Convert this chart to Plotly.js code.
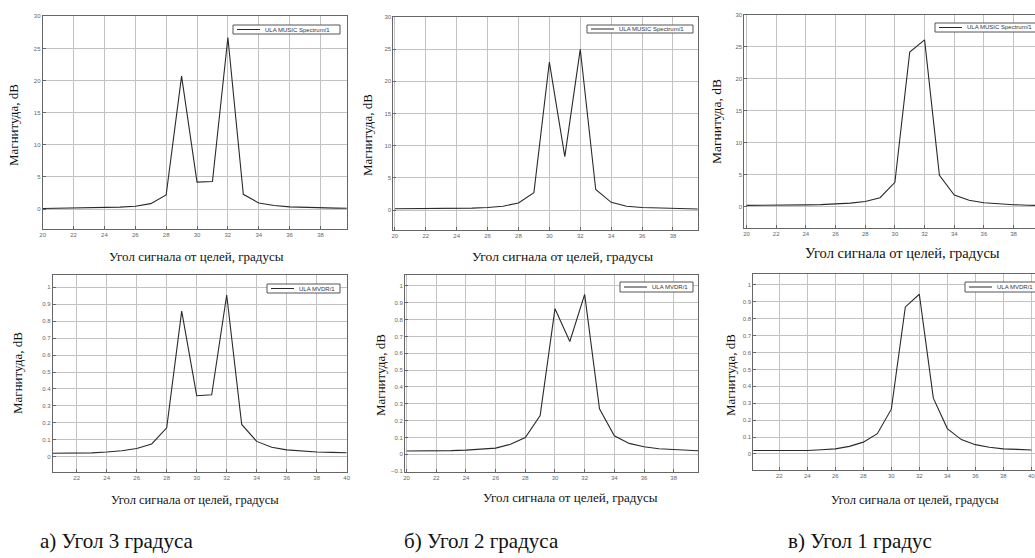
<!DOCTYPE html>
<html>
<head>
<meta charset="utf-8">
<script src="https://cdn.plot.ly/plotly-3.0.1.min.js"></script>
<style>
html,body{margin:0;padding:0;overflow:hidden;background:#fff;}
#chart{width:1060px;height:558px;}
</style>
</head>
<body>
<div id="chart"></div>
<script>
// ---- data ----
const angles = [20,21,22,23,24,25,26,27,28,29,30,31,32,33,34,35,36,37,38,39,40];
const musicA = [0.1,0.12,0.15,0.18,0.22,0.3,0.45,0.85,2.2,20.7,4.2,4.3,26.7,2.3,0.95,0.55,0.35,0.25,0.2,0.15,0.12];
const musicB = [0.2,0.2,0.2,0.22,0.25,0.3,0.4,0.6,1.1,2.7,23.0,8.3,25.0,3.2,1.2,0.6,0.4,0.3,0.25,0.2,0.15];
const musicC = [0.2,0.2,0.22,0.25,0.28,0.32,0.45,0.55,0.8,1.4,3.8,24.2,26.1,4.9,1.8,1.0,0.6,0.4,0.3,0.22,0.18];
const mvdrA = [0.02,0.02,0.02,0.022,0.027,0.035,0.048,0.075,0.17,0.86,0.36,0.365,0.955,0.19,0.09,0.055,0.04,0.032,0.027,0.025,0.023];
const mvdrB = [0.02,0.02,0.02,0.022,0.025,0.03,0.037,0.06,0.1,0.23,0.865,0.67,0.95,0.27,0.11,0.065,0.045,0.033,0.027,0.022,0.02];
const mvdrC = [0.02,0.02,0.02,0.02,0.02,0.025,0.03,0.045,0.07,0.12,0.265,0.87,0.945,0.33,0.15,0.085,0.055,0.04,0.03,0.027,0.023];
const musicName = 'ULA MUSIC Spectrum/1';
const mvdrName = 'ULA MVDR/1';
const yTitle = 'Магнитуда, dB';
const xTitle = 'Угол сигнала от целей, градусы';
const captions = ['а) Угол 3 градуса','б) Угол 2 градуса','в) Угол 1 градус'];

// ---- layout helpers ----
const W = 1060, H = 558;
const px = v => v / W;
const py = v => 1 - v / H;

function xax(l, r, range, anchor) {
  return {domain:[px(l), px(r)], range:range, dtick:2, tick0:0, anchor:anchor,
    showgrid:true, gridcolor:'#c2c2c2', gridwidth:1, zeroline:false,
    showline:true, mirror:true, linecolor:'#666', linewidth:1,
    ticks:'inside', ticklen:3, tickcolor:'#666',
    tickfont:{family:'Arial', size:6, color:'#666'}, fixedrange:true};
}
function yax(t, b, range, dtick, anchor) {
  return {domain:[py(b), py(t)], range:range, dtick:dtick, tick0:0, anchor:anchor,
    showgrid:true, gridcolor:'#c2c2c2', gridwidth:1, zeroline:false,
    showline:true, mirror:true, linecolor:'#666', linewidth:1,
    ticks:'inside', ticklen:3, tickcolor:'#666',
    tickfont:{family:'Arial', size:6, color:'#666'}, fixedrange:true};
}

const lineStyle = {color:'#2a2a2a', width:1.1};
const series = [
  {y:musicA, name:musicName, xa:'x',  ya:'y'},
  {y:musicB, name:musicName, xa:'x2', ya:'y2'},
  {y:musicC, name:musicName, xa:'x3', ya:'y3'},
  {y:mvdrA,  name:mvdrName,  xa:'x4', ya:'y4'},
  {y:mvdrB,  name:mvdrName,  xa:'x5', ya:'y5'},
  {y:mvdrC,  name:mvdrName,  xa:'x6', ya:'y6'}
];
const traces = series.map(s => ({x:angles, y:s.y, name:s.name, type:'scatter', mode:'lines',
  line:lineStyle, xaxis:s.xa, yaxis:s.ya, showlegend:false, hoverinfo:'skip'}));

const serif = 'Liberation Serif';
function ann(text, x, y, size, angle) {
  return {text:text, x:px(x), y:py(y), xref:'paper', yref:'paper', showarrow:false,
    xanchor:'center', yanchor:'middle', textangle:angle||0,
    font:{family:serif, size:size, color:'#111'}};
}

// hand-placed legend boxes (box: left, right, top, bottom in px)
const legendBoxes = [
  {l:233, r:340, t:25, b:34, name:musicName},
  {l:587, r:693, t:25, b:33, name:musicName},
  {l:935, r:1042, t:23, b:32, name:musicName},
  {l:267, r:340, t:284, b:293, name:mvdrName},
  {l:620, r:693, t:282, b:292, name:mvdrName},
  {l:965, r:1038, t:282, b:292, name:mvdrName}
];
const shapes = [];
const legendAnns = [];
legendBoxes.forEach(b => {
  shapes.push({type:'rect', xref:'paper', yref:'paper', x0:px(b.l), x1:px(b.r), y0:py(b.b), y1:py(b.t),
    line:{color:'#555', width:1}, fillcolor:'#fff', layer:'above'});
  const ym = (b.t + b.b) / 2;
  shapes.push({type:'line', xref:'paper', yref:'paper', x0:px(b.l+4), x1:px(b.l+27), y0:py(ym), y1:py(ym),
    line:{color:'#2a2a2a', width:1}, layer:'above'});
  legendAnns.push({text:b.name, x:px(b.l+30), y:py(ym), xref:'paper', yref:'paper', showarrow:false,
    xanchor:'left', yanchor:'middle', font:{family:'Arial', size:6, color:'#333'}});
});

const layout = {
  width:W, height:H, margin:{l:0,r:0,t:0,b:0}, paper_bgcolor:'#fff', plot_bgcolor:'#fff',
  showlegend:false,
  xaxis:  xax(42.7, 346.7, [20, 39.7], 'y'),
  yaxis:  yax(16, 229, [-3.1, 30.05], 5, 'x'),
  xaxis2: xax(393.3, 697.7, [19.9, 39.6], 'y2'),
  yaxis2: yax(16.7, 230, [-3.1, 30.05], 5, 'x2'),
  xaxis3: xax(744.3, 1041.8, [19.85, 39.9], 'y3'),
  yaxis3: yax(15, 227.7, [-3.3, 30], 5, 'x3'),
  xaxis4: xax(52.7, 346.7, [20.4, 40.0], 'y4'),
  yaxis4: yax(275, 471.7, [-0.089, 1.073], 0.1, 'x4'),
  xaxis5: xax(405, 698, [19.89, 39.64], 'y5'),
  yaxis5: yax(275, 471.7, [-0.103, 1.065], 0.1, 'x5'),
  xaxis6: xax(753.3, 1040, [20.14, 40.62], 'y6'),
  yaxis6: yax(274, 470, [-0.095, 1.065], 0.1, 'x6'),
  shapes: shapes,
  annotations: [
    ann(yTitle, 14, 125, 13, -90),
    ann(yTitle, 367, 135, 13, -90),
    ann(yTitle, 717, 122, 13.5, -90),
    ann(yTitle, 17, 373, 13, -90),
    ann(yTitle, 380, 375, 13, -90),
    ann(yTitle, 730, 375, 13, -90),
    ann(xTitle, 197, 256, 13, 0),
    ann(xTitle, 562, 256, 13.5, 0),
    ann(xTitle, 902, 253, 14.5, 0),
    ann(xTitle, 195, 500, 12.5, 0),
    ann(xTitle, 570, 497, 13, 0),
    ann(xTitle, 915, 500, 12.5, 0),
    ann(captions[0], 117, 541, 21, 0),
    ann(captions[1], 481, 541, 21, 0),
    ann(captions[2], 860, 541, 21, 0)
  ].concat(legendAnns)
};

Plotly.newPlot('chart', traces, layout, {staticPlot:true, displayModeBar:false});
</script>
</body>
</html>
